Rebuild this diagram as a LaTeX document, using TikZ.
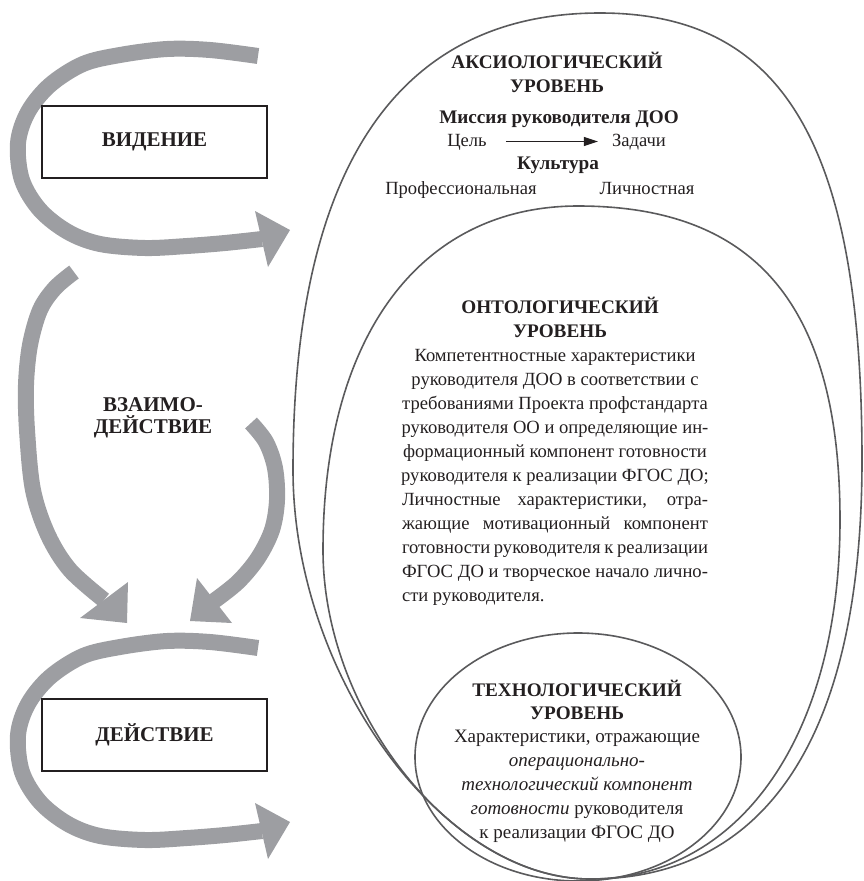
\documentclass[tikz,border=0pt]{standalone}
\usepackage{fontspec}
\setmainfont{Liberation Serif}
\usetikzlibrary{arrows.meta}
\definecolor{arrgray}{HTML}{9D9EA2}
\definecolor{linegray}{HTML}{5A5A5C}
\definecolor{ink}{HTML}{231F20}
\begin{document}
\begin{tikzpicture}[x=1pt,y=-1pt,
  band/.style={draw=arrgray,line width=16pt,line cap=butt,line join=round},
  egg/.style={draw=linegray,line width=1.6pt},
  framebox/.style={draw=ink,line width=2pt,minimum width=225pt,minimum height=72pt,inner sep=0pt,font=\fontsize{21}{24}\selectfont\bfseries,text=ink},
  tx/.style={inner sep=0pt,text=ink,font=\fontsize{18.6}{24}\selectfont},
  tb/.style={inner sep=0pt,text=ink,font=\fontsize{19.2}{24}\selectfont\bfseries},
  para/.style={tx,align=center,anchor=north},
  smallarr/.style={draw=ink,line width=1.2pt,-{Triangle[length=14pt,width=9pt]}},
  carrow/.pic={
    \draw[band] plot[smooth,tension=0.55] coordinates {(258,56) (210,50) (167,49) (120,55) (83,64) (50,85) (28,112) (18,143) (22,180) (40,210) (68,232) (100,244) (145,248) (187,246) (225,243) (262,239)};
    \fill[arrgray] (255,211) -- (290,230) -- (268,267) -- cycle;
  }
]
\useasboundingbox (0,0) rectangle (864,881);

% eggs
\draw[egg] (600,13) .. controls (784.8,13) and (862,147.1) .. (862,460)
  .. controls (862,733.7) and (768.1,879) .. (590,879)
  .. controls (441.5,879) and (293,674.5) .. (293,470)
  .. controls (293,168.4) and (397.4,13) .. (600,13) -- cycle;
\draw[egg] (578,206) .. controls (756.2,206) and (840,306.5) .. (840,520)
  .. controls (840,735.4) and (740,879) .. (590,879)
  .. controls (456.5,879) and (323,714.5) .. (323,550)
  .. controls (323,336.7) and (419.9,206) .. (578,206) -- cycle;
\draw[egg] (578,757) ellipse [x radius=163pt, y radius=124pt];

% gray arrows
\pic at (0,0) {carrow};
\pic at (0,592) {carrow};
\draw[band] plot[smooth,tension=0.55] coordinates {(74,272) (55,288) (40,310) (30,345) (26,385) (27,430) (33,490) (48,535) (70,570) (104,600)};
\fill[arrgray] (80,618) -- (127,623) -- (128,582) -- cycle;
\draw[band] plot[smooth,tension=0.55] coordinates {(251,423) (266,442) (275,468) (277,500) (272,530) (258,558) (238,582) (214,601)};
\fill[arrgray] (197,578) -- (190,621) -- (232,623) -- cycle;

% boxes
\node[framebox] (vid) at (154.5,142) {ВИДЕНИЕ};
\node[framebox] (deis) at (154.5,735) {ДЕЙСТВИЕ};
\node[tb,align=center,font=\fontsize{21}{22}\selectfont\bfseries] (vz) at (153,418) {ВЗАИМО-\\ДЕЙСТВИЕ};

% axiological
\node[tb,anchor=base] (ax1) at (557,68) {АКСИОЛОГИЧЕСКИЙ};
\node[tb,anchor=base] (ax2) at (557,92) {УРОВЕНЬ};
\node[tb,anchor=base] (mis) at (559,123) {Миссия руководителя ДОО};
\node[tx,anchor=base,text height=13pt,text depth=4pt] (cel) at (467,146) {Цель};
\node[tx,anchor=base,text height=13pt,text depth=4pt] (zad) at (639,146) {Задачи};
\draw[smallarr,shorten <=19pt,shorten >=14pt] (cel.east) -- (zad.west);
\node[tb,anchor=base] (kul) at (558,169) {Культура};
\node[tx,anchor=base] (prof) at (461,194) {Профессиональная};
\node[tx,anchor=base] (lich) at (647,194) {Личностная};

% ontological
\node[tb,anchor=base] (on1) at (560,313) {ОНТОЛОГИЧЕСКИЙ};
\node[tb,anchor=base] (on2) at (560,337) {УРОВЕНЬ};
\node[para] (onb) at (555,349) {Компетентностные характеристики\\
руководителя ДОО в соответствии с\\
требованиями Проекта профстандарта\\
руководителя ОО и определяющие ин-\\
формационный компонент готовности\\
руководителя к реализации ФГОС ДО;\\
\makebox[306pt][s]{Личностные характеристики, отра-}\\
\makebox[306pt][s]{жающие мотивационный компонент}\\
\makebox[306pt][s]{готовности руководителя к реализации}\\
\makebox[306pt][s]{ФГОС ДО и творческое начало лично-}\\
\makebox[306pt][l]{сти руководителя.}};

% technological
\node[tb,anchor=base] (te1) at (577,696) {ТЕХНОЛОГИЧЕСКИЙ};
\node[tb,anchor=base] (te2) at (577,719) {УРОВЕНЬ};
\node[para,font=\fontsize{19}{24}\selectfont] (teb) at (577,730) {Характеристики, отражающие\\
\textit{операционально-}\\
\textit{технологический компонент}\\
\textit{готовности} руководителя\\
к реализации ФГОС ДО};
\end{tikzpicture}
\end{document}
